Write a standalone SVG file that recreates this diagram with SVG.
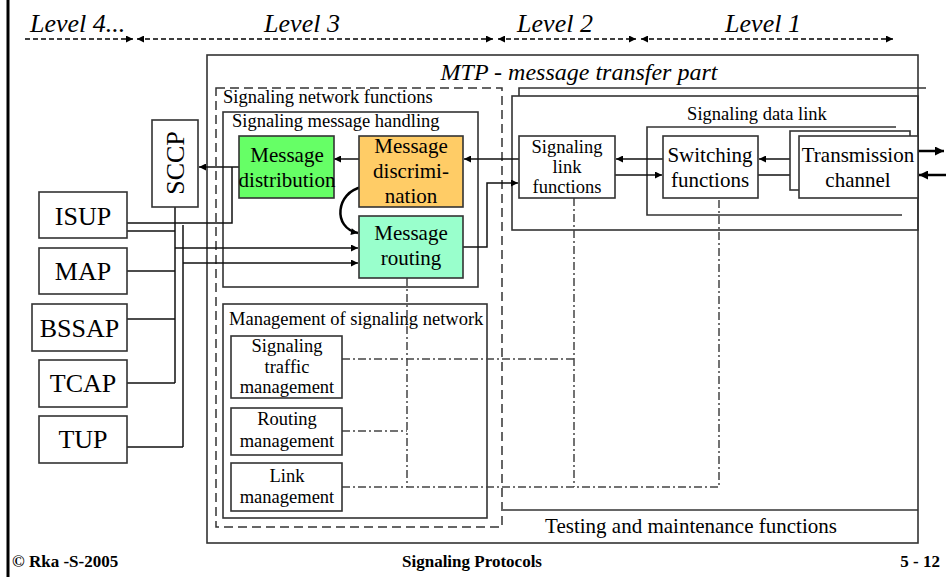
<svg xmlns="http://www.w3.org/2000/svg" width="952" height="577" viewBox="0 0 952 577">
<style>
.t{font-family:"Liberation Serif","Times New Roman",serif;fill:#000}
.it{font-style:italic;font-size:26px}
.big{font-size:21px;text-anchor:middle}
.sm{font-size:18.5px}
.smc{font-size:18.5px;text-anchor:middle}
.pr{font-size:26px;text-anchor:middle}
.box{fill:#fff;stroke:#333;stroke-width:1.6}
.frame{fill:none;stroke:#333;stroke-width:1.6}
.ln{fill:none;stroke:#111;stroke-width:1.5}
.th{fill:none;stroke:#000;stroke-width:2.5}
.dd{fill:none;stroke:#444;stroke-width:1.5;stroke-dasharray:8,3,2,3}
.lv{fill:none;stroke:#000;stroke-width:1.5;stroke-dasharray:5,3}
.ft{font-family:"Liberation Serif","Times New Roman",serif;font-weight:bold;font-size:17px}
</style>
<defs>
<marker id="a" viewBox="0 0 10 10" refX="10" refY="5" markerWidth="9" markerHeight="7" markerUnits="userSpaceOnUse" orient="auto-start-reverse"><path d="M0,0 L10,5 L0,10 z" fill="#000"/></marker>
<marker id="b" viewBox="0 0 10 10" refX="10" refY="5" markerWidth="11" markerHeight="9" markerUnits="userSpaceOnUse" orient="auto-start-reverse"><path d="M0,0 L10,5 L0,10 z" fill="#000"/></marker>
</defs>
<rect width="952" height="577" fill="#fff"/>
<line x1="8" y1="0" x2="8" y2="577" stroke="#000" stroke-width="3"/>

<g id="levels">
<text class="t it" x="30" y="32">Level 4...</text>
<text class="t it" x="302" y="32" text-anchor="middle">Level 3</text>
<text class="t it" x="555" y="32" text-anchor="middle">Level 2</text>
<text class="t it" x="763" y="32" text-anchor="middle">Level 1</text>
<path class="lv" d="M25,39 H133" marker-end="url(#a)"/>
<path class="lv" d="M137,39 H493" marker-start="url(#a)" marker-end="url(#a)"/>
<path class="lv" d="M498,39 H636" marker-start="url(#a)" marker-end="url(#a)"/>
<path class="lv" d="M641,39 H893" marker-start="url(#a)" marker-end="url(#a)"/>
</g>

<g id="mtp">
<rect class="frame" x="207" y="55" width="711" height="488"/>
<text class="t" x="579" y="80" font-style="italic" font-size="24" text-anchor="middle">MTP - message transfer part</text>
</g>

<g id="snf">
<rect x="216" y="88" width="286" height="439" fill="none" stroke="#333" stroke-width="1.5" stroke-dasharray="9,5"/>
<text class="t sm" x="223" y="103">Signaling network functions</text>
</g>

<g id="smh">
<rect class="frame" x="223" y="112" width="255" height="175"/>
<text class="t sm" x="232" y="127">Signaling message handling</text>
</g>

<g id="level2">
<path class="frame" d="M519,96 V88 H926"/>
<rect class="frame" x="512" y="96" width="406" height="134"/>
</g>

<g id="datalink">
<text class="t sm" x="757" y="120" text-anchor="middle">Signaling data link</text>
<path class="frame" d="M896,127 H647 V215 H902"/>
</g>

<g id="mgmt">
<rect class="frame" x="223" y="304" width="264" height="214"/>
<text class="t sm" x="229" y="325">Management of signaling network</text>
</g>

<g id="testing">
<path class="frame" d="M503,510 H918"/>
<text class="t" x="691" y="533" font-size="21" text-anchor="middle">Testing and maintenance functions</text>
</g>

<g id="connectors">
<path class="ln" d="M663,159 H616" marker-end="url(#a)"/>
<path class="ln" d="M615,175 H662" marker-end="url(#a)"/>
<path class="ln" d="M790,159 H759" marker-end="url(#a)"/>
<path class="ln" d="M758,175 H798" marker-end="url(#a)"/>
<path class="th" d="M918,151 H944" marker-end="url(#b)"/>
<path class="th" d="M946,175 H919" marker-end="url(#b)"/>
<path class="ln" d="M519,159 H464" marker-end="url(#a)"/>
<path class="ln" d="M457,247 H487 V183 H518" marker-end="url(#a)"/>
<path class="ln" d="M359,159 H334" marker-end="url(#a)"/>
<path class="ln" d="M239,167 H199" marker-end="url(#a)"/>
<path class="ln" d="M127,223 H232 V167"/>
<path class="ln" d="M127,231 H175"/>
<path class="ln" d="M175,207 V383"/>
<path class="ln" d="M183,225 V447"/>
<path class="ln" d="M127,271 H175"/>
<path class="ln" d="M127,319 H175"/>
<path class="ln" d="M127,383 H175"/>
<path class="ln" d="M127,447 H183"/>
<path class="ln" d="M175,248 H358" marker-end="url(#a)"/>
<path class="ln" d="M183,263 H358" marker-end="url(#a)"/>
<path class="th" d="M362,187 C336,192 332,228 358,233" marker-end="url(#a)"/>
<path class="dd" d="M342,359 H574"/>
<path class="dd" d="M574,198 V487"/>
<path class="dd" d="M342,431 H407"/>
<path class="dd" d="M407,278 V487"/>
<path class="dd" d="M342,487 H719 V198"/>
</g>

<g id="sccp">
<rect class="box" x="152" y="120" width="46" height="87"/>
<text class="t pr" transform="translate(184,163) rotate(-90)">SCCP</text>
</g>
<g id="isup"><rect class="box" x="39" y="192" width="88" height="46"/><text class="t pr" x="83" y="225">ISUP</text></g>
<g id="map"><rect class="box" x="39" y="248" width="88" height="46"/><text class="t pr" x="83" y="280">MAP</text></g>
<g id="bssap"><rect class="box" x="32" y="304" width="95" height="47"/><text class="t pr" x="79.5" y="337">BSSAP</text></g>
<g id="tcap"><rect class="box" x="39" y="360" width="88" height="47"/><text class="t pr" x="83" y="392">TCAP</text></g>
<g id="tup"><rect class="box" x="39" y="416" width="88" height="47"/><text class="t pr" x="83" y="448">TUP</text></g>

<g id="distribution">
<rect class="box" x="239" y="136" width="95" height="62" style="fill:#66ff66"/>
<text class="t big" x="287" y="162">Message</text>
<text class="t big" x="287" y="187">distribution</text>
</g>
<g id="discrimination">
<rect class="box" x="359" y="136" width="104" height="71" style="fill:#ffcc66"/>
<text class="t big" x="411" y="153">Message</text>
<text class="t big" x="411" y="178">discrimi-</text>
<text class="t big" x="411" y="203">nation</text>
</g>
<g id="routing">
<rect class="box" x="359" y="216" width="104" height="62" style="fill:#99ffcc"/>
<text class="t big" x="411" y="240">Message</text>
<text class="t big" x="411" y="265">routing</text>
</g>

<g id="slf">
<rect class="box" x="519" y="136" width="96" height="62"/>
<text class="t smc" x="567" y="153">Signaling</text>
<text class="t smc" x="567" y="173">link</text>
<text class="t smc" x="567" y="193">functions</text>
</g>
<g id="switching">
<rect class="box" x="663" y="136" width="95" height="62"/>
<text class="t big" x="710" y="162">Switching</text>
<text class="t big" x="710" y="187">functions</text>
</g>
<g id="transmission">
<rect class="box" x="790" y="131" width="120" height="59"/>
<rect class="box" x="799" y="136" width="119" height="62"/>
<text class="t big" x="858" y="162">Transmission</text>
<text class="t big" x="858" y="187">channel</text>
</g>

<g id="stm">
<rect class="box" x="231" y="336" width="111" height="62"/>
<text class="t smc" x="287" y="352">Signaling</text>
<text class="t smc" x="287" y="373">traffic</text>
<text class="t smc" x="287" y="393">management</text>
</g>
<g id="rm">
<rect class="box" x="231" y="408" width="111" height="47"/>
<text class="t smc" x="287" y="425">Routing</text>
<text class="t smc" x="287" y="447">management</text>
</g>
<g id="lm">
<rect class="box" x="231" y="463" width="111" height="48"/>
<text class="t smc" x="287" y="482">Link</text>
<text class="t smc" x="287" y="503">management</text>
</g>

<g id="footer">
<text class="ft" x="12" y="567">© Rka -S-2005</text>
<text class="ft" x="472" y="567" text-anchor="middle">Signaling Protocols</text>
<text class="ft" x="940" y="567" text-anchor="end">5 - 12</text>
</g>
</svg>
